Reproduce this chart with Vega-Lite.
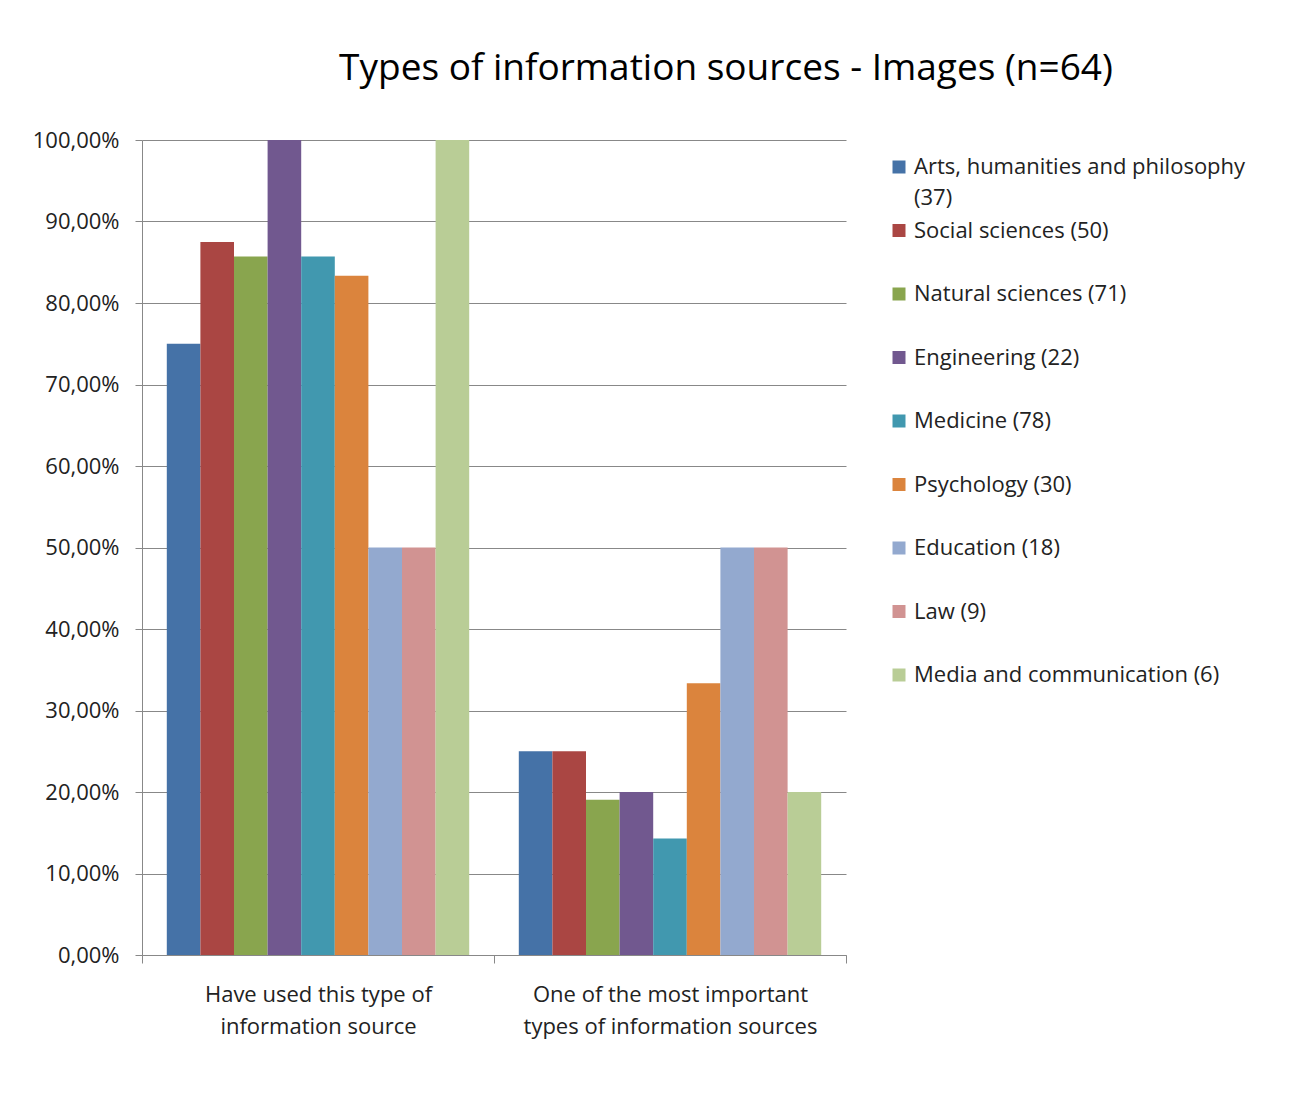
{
  "$schema": "https://vega.github.io/schema/vega-lite/v6.json",
  "width": 704,
  "height": 815,
  "autosize": {"type": "none"},
  "padding": {"left": 142, "top": 140, "right": 450, "bottom": 161},
  "background": "white",
  "title": {
    "text": "Types of information sources - Images (n=64)",
    "font": "Open Sans",
    "fontSize": 37,
    "fontWeight": "normal",
    "color": "#000000",
    "anchor": "middle",
    "frame": "group",
    "dx": 232,
    "offset": 41
  },
  "data": {
    "values": [
      {"group": "Have used this type of information source", "category": "Arts, humanities and philosophy (37)", "value": 0.75},
      {"group": "Have used this type of information source", "category": "Social sciences  (50)", "value": 0.875},
      {"group": "Have used this type of information source", "category": "Natural sciences (71)", "value": 0.8571},
      {"group": "Have used this type of information source", "category": "Engineering (22)", "value": 1.0},
      {"group": "Have used this type of information source", "category": "Medicine (78)", "value": 0.8571},
      {"group": "Have used this type of information source", "category": "Psychology (30)", "value": 0.8333},
      {"group": "Have used this type of information source", "category": "Education (18)", "value": 0.5},
      {"group": "Have used this type of information source", "category": "Law (9)", "value": 0.5},
      {"group": "Have used this type of information source", "category": "Media and communication (6)", "value": 1.0},
      {"group": "One of the most important types of information sources", "category": "Arts, humanities and philosophy (37)", "value": 0.25},
      {"group": "One of the most important types of information sources", "category": "Social sciences  (50)", "value": 0.25},
      {"group": "One of the most important types of information sources", "category": "Natural sciences (71)", "value": 0.1905},
      {"group": "One of the most important types of information sources", "category": "Engineering (22)", "value": 0.2},
      {"group": "One of the most important types of information sources", "category": "Medicine (78)", "value": 0.1429},
      {"group": "One of the most important types of information sources", "category": "Psychology (30)", "value": 0.3333},
      {"group": "One of the most important types of information sources", "category": "Education (18)", "value": 0.5},
      {"group": "One of the most important types of information sources", "category": "Law (9)", "value": 0.5},
      {"group": "One of the most important types of information sources", "category": "Media and communication (6)", "value": 0.2}
    ]
  },
  "mark": {"type": "bar", "stroke": null},
  "encoding": {
    "x": {
      "field": "group",
      "type": "nominal",
      "sort": null,
      "scale": {"paddingInner": 0, "paddingOuter": 0},
      "axis": {
        "title": null,
        "labelAngle": 0,
        "labelExpr": "datum.value == 'Have used this type of information source' ? ['Have used this type of', 'information source'] : datum.value == 'One of the most important types of information sources' ? ['One of the most important', 'types of information sources'] : ''",
        "labelFont": "Open Sans",
        "labelFontSize": 22,
        "labelColor": "#222222",
        "labelLineHeight": 32,
        "labelPadding": 21,
        "labelLimit": 400,
        "tickBand": "extent",
        "tickSize": 8,
        "tickColor": "#888888",
        "domainColor": "#888888",
        "grid": false
      }
    },
    "xOffset": {
      "field": "category",
      "type": "nominal",
      "sort": null,
      "scale": {"paddingInner": 0, "paddingOuter": 0.738}
    },
    "y": {
      "field": "value",
      "type": "quantitative",
      "scale": {"domain": [0, 1], "nice": false},
      "axis": {
        "title": null,
        "values": [0, 0.1, 0.2, 0.3, 0.4, 0.5, 0.6, 0.7, 0.8, 0.9, 1.0],
        "labelExpr": "replace(format(datum.value, '.2%'), '.', ',')",
        "labelFont": "Open Sans",
        "labelFontSize": 22,
        "labelColor": "#222222",
        "labelPadding": 16,
        "tickSize": 7,
        "tickColor": "#888888",
        "domainColor": "#888888",
        "grid": true,
        "gridColor": "#888888",
        "gridWidth": 1
      }
    },
    "color": {
      "field": "category",
      "type": "nominal",
      "sort": null,
      "scale": {
        "range": ["#4572A7", "#AA4643", "#89A54E", "#71588F", "#4198AF", "#DB843D", "#93A9CF", "#D19392", "#B9CD96"]
      },
      "legend": {
        "title": null,
        "orient": "none",
        "legendX": 746,
        "legendY": 16,
        "symbolType": "square",
        "symbolSize": 169,
        "symbolStrokeWidth": 0,
        "labelFont": "Open Sans",
        "labelFontSize": 22,
        "labelColor": "#222222",
        "labelOffset": 4,
        "labelLimit": 420,
        "rowPadding": 10.5,
        "labelExpr": "datum.label == 'Arts, humanities and philosophy (37)' ? ['Arts, humanities and philosophy', '(37)'] : [datum.label, ' ']"
      }
    }
  },
  "config": {
    "view": {"stroke": null},
    "style": {"guide-label": {"lineHeight": 31}}
  }
}
